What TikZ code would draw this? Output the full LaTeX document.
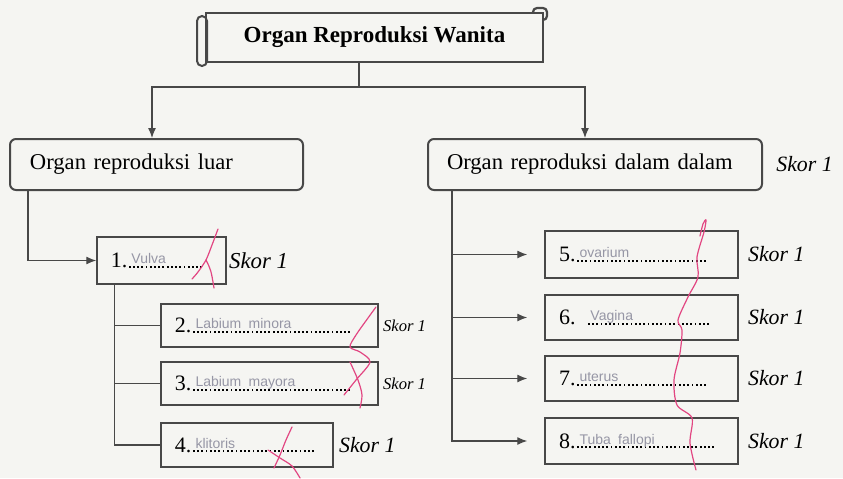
\documentclass[tikz,border=0pt]{standalone}
\usepackage{fontspec}
\setmainfont{Liberation Serif}
\newfontfamily\handfont{Liberation Sans}
\usetikzlibrary{arrows.meta,positioning,calc}
\definecolor{PaperColor}{RGB}{245,245,242}
\definecolor{InkGray}{RGB}{72,72,72}
\definecolor{PencilGray}{RGB}{150,150,165}
\definecolor{MarkPink}{RGB}{226,70,130}
\newcommand{\ans}[2]{\makebox[#1][l]{\rlap{\xleaders\hbox to 2.1pt{\hss\rule{0.9pt}{0.9pt}\hss}\hskip #1}\hspace{2pt}\raisebox{2pt}{\handfont\scriptsize\color{PencilGray}#2}}}

\begin{document}
\begin{tikzpicture}[x=0.5pt,y=-0.5pt,
    line/.style={InkGray, line width=0.6pt},
    arr/.style={line, -{Latex[length=5pt,width=4pt]}},
    groupbox/.style={draw=InkGray, line width=1pt, rounded corners=3pt, minimum height=25.5pt, align=left, font=\fontsize{11.3}{13}\selectfont},
    ansbox/.style={draw=InkGray, line width=0.75pt, inner xsep=7pt, align=left, font=\fontsize{11}{13}\selectfont},
    skor/.style={inner sep=0pt, font=\fontsize{10.9}{13}\selectfont\itshape},
    skorsmall/.style={skor, font=\fontsize{8.3}{10}\selectfont\itshape},
    checkstroke/.style={MarkPink, line width=0.6pt, line cap=round}]
  \fill[PaperColor] (0,0) rectangle (843,478);
  \useasboundingbox (0,0) rectangle (843,478);

  \draw[InkGray, line width=1pt, rounded corners=2.5pt] (197,16) rectangle (207,66);
  \node[draw=InkGray, line width=1.3pt, minimum width=168.5pt, minimum height=24.5pt, font=\fontsize{11.5}{13}\selectfont\bfseries] (title) at (374.5,37.5) {Organ Reproduksi Wanita};
  \draw[InkGray, line width=1.1pt, rounded corners=2pt] (533,13) -- (533,8) -- (547,8) -- (547,20) -- (543,20);

  \node[groupbox, text width=126.5pt, inner xsep=10pt] (luar) at (156.5,164.5) {Organ reproduksi luar};
  \node[groupbox, text width=148pt, inner xsep=9.5pt] (dalam) at (595,164.5) {Organ reproduksi dalam dalam};

  \node[ansbox, text width=50.5pt, minimum height=23.5pt] (b1) at (161.5,260.5) {1.\ans{38pt}{Vulva}};
  \node[ansbox, text width=94.5pt, minimum height=21.5pt] (b2) at (269.5,325.5) {2.\ans{80pt}{Labium minora}};
  \node[ansbox, text width=94.5pt, minimum height=21.5pt] (b3) at (269.5,383.5) {3.\ans{80pt}{Labium mayora}};
  \node[ansbox, text width=72pt, minimum height=22pt] (b4) at (247,445) {4.\ans{62pt}{klitoris}};
  \node[ansbox, text width=82.5pt, minimum height=23.5pt] (b5) at (641.5,254.5) {5.\ans{66pt}{ovarium}};
  \node[ansbox, text width=82.5pt, minimum height=22.5pt] (b6) at (641.5,317.5) {6. \ans{62pt}{Vagina}};
  \node[ansbox, text width=82.5pt, minimum height=22.5pt] (b7) at (641.5,378.5) {7.\ans{66pt}{uterus}};
  \node[ansbox, text width=82.5pt, minimum height=23pt] (b8) at (641.5,441) {8.\ans{70pt}{Tuba fallopi}};

  \coordinate (split) at (359,87);
  \draw[line] (title.south -| split) -- (split);
  \draw[arr] (split) -| ([xshift=-2.25pt]luar.north);
  \draw[arr] (split) -| ([xshift=-5pt]dalam.north);
  \draw[arr] ([xshift=9.5pt]luar.south west) |- (b1);
  \coordinate (ltrunk) at ([xshift=9pt]b1.south west);
  \draw[line] (ltrunk) |- (b4);
  \foreach \b in {b2,b3}
    \draw[line] (ltrunk |- \b) -- (\b);
  \coordinate (rtrunk) at ([xshift=12.5pt]dalam.south west);
  \draw[arr, shorten >=8.5pt] (rtrunk) |- (b8);
  \foreach \b in {b5,b6,b7}
    \draw[arr, shorten >=8.5pt] (rtrunk |- \b) -- (\b);

  \node[skor, right=6.5pt of dalam] (sdalam) {Skor 1};
  \node[skor, font=\fontsize{11.4}{13}\selectfont\itshape, right=1pt of b1] (s1) {Skor 1};
  \node[skorsmall, right=2pt of b2] (s2) {Skor 1};
  \node[skorsmall, right=2pt of b3] (s3) {Skor 1};
  \node[skor, right=2.5pt of b4] (s4) {Skor 1};
  \foreach \i in {5,...,8}
    \node[skor, right=4.5pt of b\i] (s\i) {Skor 1};

  \draw[checkstroke] plot[smooth] coordinates {(218,229) (212,245) (206,260) (198,272) (192,279)};
  \draw[checkstroke] (206,260) .. controls (211,270) .. (214,288);
  \draw[checkstroke] plot[smooth] coordinates {(376,307) (368,318) (356,335) (350,347) (360,352) (370,362) (356,380) (344,395)};
  \draw[checkstroke] plot[smooth] coordinates {(350,362) (358,380) (362,395) (360,408)};
  \draw[checkstroke] plot[smooth] coordinates {(292,427) (286,440) (280,455) (274,468)};
  \draw[checkstroke] plot[smooth] coordinates {(268,450) (280,458) (292,466) (300,478)};
  \draw[checkstroke] plot[smooth] coordinates {(700,236) (703,224) (706,220) (704,232) (697,257) (698,277) (688,297) (678,320) (682,330) (680,353) (674,380) (677,405) (692,418) (690,443) (696,470)};
\end{tikzpicture}
\end{document}
